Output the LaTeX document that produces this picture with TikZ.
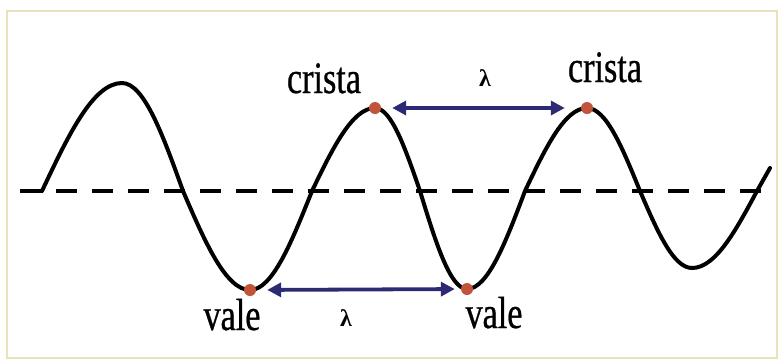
\documentclass[tikz,border=0pt]{standalone}
\usepackage{fontspec}
\usetikzlibrary{arrows.meta}
\newfontfamily\lblfont[FakeStretch=0.76,FakeBold=0.6]{Liberation Serif}
\newfontfamily\lamfont{Liberation Serif}
\definecolor{framec}{HTML}{E9E3BC}
\definecolor{dotc}{HTML}{C0533A}
\definecolor{arrc}{HTML}{2C2A72}
\tikzset{
  wave/.style={line width=4pt, black, line join=round, line cap=round},
  axis/.style={line width=3.8pt, black, dash pattern=on 21pt off 15pt},
  pointdot/.style={circle, fill=dotc, inner sep=0pt, minimum size=12pt},
  lambdaarrow/.style={line width=3.8pt, arrc, {Triangle[length=14pt,width=14pt]}-{Triangle[length=14pt,width=14pt]}},
  wordlabel/.style={inner sep=0pt, anchor=base, font=\lblfont\fontsize{45}{50}\selectfont},
  lamlabel/.style={inner sep=0pt, font=\lamfont\bfseries\fontsize{24}{26}\selectfont}
}
\begin{document}
\begin{tikzpicture}[x=1pt,y=-1pt]
\useasboundingbox (0,0) rectangle (779,360);
\draw[framec, line width=2pt] (7,11) rectangle (777,358);
% axis
\coordinate (axL) at (20,191);
\coordinate (axR) at (772,191);
\draw[axis] (axL) -- (axR);
% wave
\draw[wave] (42,191) sin (122,83) cos (183,191) sin (250,290) cos (312,191)
  sin (375,108) cos (420,191) sin (467,289) cos (525,191) sin (587,108)
  cos (640,191) sin (692,268) cos (757,191) -- (770,168);
% points
\node[pointdot] (c1) at (375,108) {};
\node[pointdot] (c2) at (587,108) {};
\node[pointdot] (v1) at (250,290) {};
\node[pointdot] (v2) at (467,289) {};
% arrows
\draw[lambdaarrow, shorten <=11pt, shorten >=16pt] (c1) -- (c2);
\draw[lambdaarrow, shorten <=11pt, shorten >=6pt] (v1) -- (v2);
% labels
\node[wordlabel] (t1) at (324,93) {crista};
\node[wordlabel] (t2) at (605,82) {crista};
\node[wordlabel] (t3) at (232,330) {vale};
\node[wordlabel] (t4) at (494,328) {vale};
\node[lamlabel] (l1) at (485,78) {λ};
\node[lamlabel] (l2) at (346,318) {λ};
\end{tikzpicture}
\end{document}
